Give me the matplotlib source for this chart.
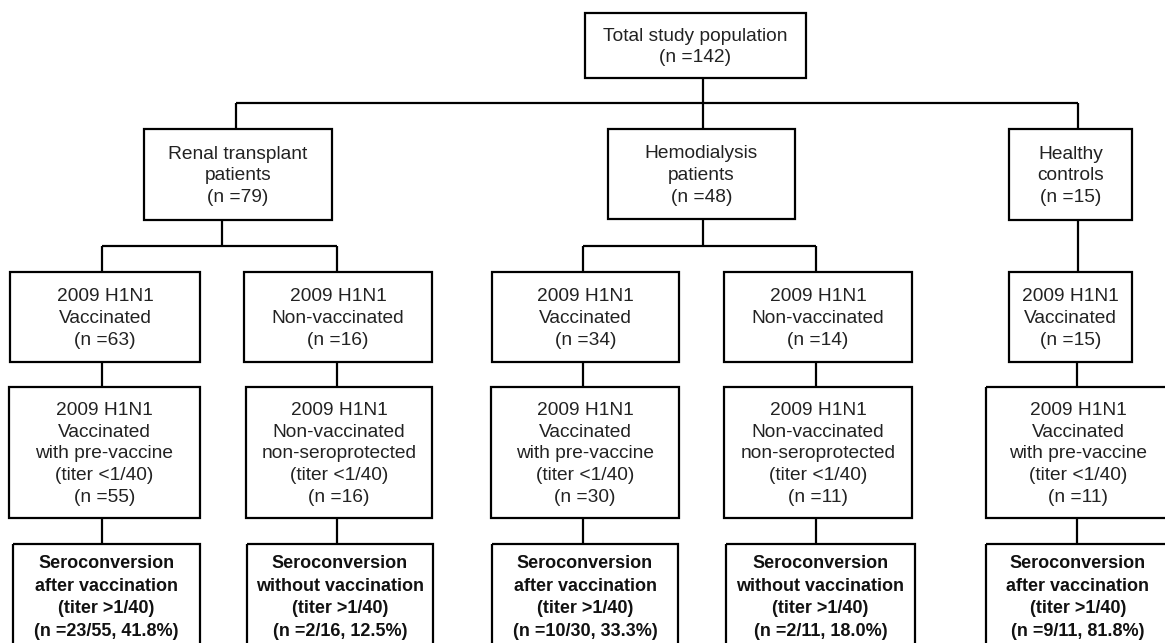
import matplotlib.pyplot as plt
from matplotlib.patches import Rectangle

plt.rcParams['font.family'] = ['Liberation Sans', 'DejaVu Sans']

# box texts, top to bottom
top_label = "Total study population\n(n =142)"
group_labels = ["Renal transplant\npatients\n(n =79)",
                "Hemodialysis\npatients\n(n =48)",
                "Healthy\ncontrols\n(n =15)"]
level3_labels = ["2009 H1N1\nVaccinated\n(n =63)",
                 "2009 H1N1\nNon-vaccinated\n(n =16)",
                 "2009 H1N1\nVaccinated\n(n =34)",
                 "2009 H1N1\nNon-vaccinated\n(n =14)",
                 "2009 H1N1\nVaccinated\n(n =15)"]
level4_labels = ["2009 H1N1\nVaccinated\nwith pre-vaccine\n(titer <1/40)\n(n =55)",
                 "2009 H1N1\nNon-vaccinated\nnon-seroprotected\n(titer <1/40)\n(n =16)",
                 "2009 H1N1\nVaccinated\nwith pre-vaccine\n(titer <1/40)\n(n =30)",
                 "2009 H1N1\nNon-vaccinated\nnon-seroprotected\n(titer <1/40)\n(n =11)",
                 "2009 H1N1\nVaccinated\nwith pre-vaccine\n(titer <1/40)\n(n =11)"]
level5_labels = ["Seroconversion\nafter vaccination\n(titer >1/40)\n(n =23/55, 41.8%)",
                 "Seroconversion\nwithout vaccination\n(titer >1/40)\n(n =2/16, 12.5%)",
                 "Seroconversion\nafter vaccination\n(titer >1/40)\n(n =10/30, 33.3%)",
                 "Seroconversion\nwithout vaccination\n(titer >1/40)\n(n =2/11, 18.0%)",
                 "Seroconversion\nafter vaccination\n(titer >1/40)\n(n =9/11, 81.8%)"]

# layout in pixels (x0, x1, y0, y1)
top_box = (585, 806, 13, 78)
group_boxes = [(144, 332, 129, 220), (608, 795, 129, 219), (1009, 1132, 129, 220)]
l3_boxes = [(10, 200, 272, 362), (244, 432, 272, 362), (492, 679, 272, 362),
            (724, 912, 272, 362), (1009, 1132, 272, 362)]
l4_boxes = [(9, 200, 387, 518), (246, 432, 387, 518), (491, 679, 387, 518),
            (724, 912, 387, 518), (986, 1170, 387, 518)]
l5_boxes = [(13, 200, 544, 652), (247, 433, 544, 652), (492, 678, 544, 652),
            (726, 915, 544, 652), (986, 1170, 544, 652)]
l5_text_y = 597.5

fig = plt.figure(figsize=(11.65, 6.43), dpi=100)
ax = fig.add_axes([0, 0, 1, 1])
ax.set_xlim(0, 1165)
ax.set_ylim(643, 0)
ax.axis('off')

lw = 1.6


def box(b, text, bold=False, ty=None):
    x0, x1, y0, y1 = b
    ax.add_patch(Rectangle((x0, y0), x1 - x0, y1 - y0, fill=False,
                           edgecolor='black', lw=lw))
    if ty is None:
        ty = (y0 + y1) / 2 + 1.5
    if bold:
        ax.text((x0 + x1) / 2, ty, text, ha='center', va='center',
                fontsize=13, linespacing=1.42, color='#111111', fontweight='bold')
    else:
        ax.text((x0 + x1) / 2, ty, text, ha='center', va='center',
                fontsize=13.8, linespacing=1.36, color='#222222')


def line(xs, ys):
    ax.plot(xs, ys, color='black', lw=lw, solid_capstyle='butt')


box(top_box, top_label)
for b, t in zip(group_boxes, group_labels):
    box(b, t)
for b, t in zip(l3_boxes, level3_labels):
    box(b, t)
for b, t in zip(l4_boxes, level4_labels):
    box(b, t)
for b, t in zip(l5_boxes, level5_labels):
    box(b, t, bold=True, ty=l5_text_y)

# connectors
line([703, 703], [78, 129])
line([236, 1078], [103, 103])
line([236, 236], [103, 129])
line([1078, 1078], [103, 129])

line([222, 222], [220, 246])
line([102, 337], [246, 246])
line([102, 102], [246, 272])
line([337, 337], [246, 272])

line([703, 703], [219, 246])
line([583, 816], [246, 246])
line([583, 583], [246, 272])
line([816, 816], [246, 272])

line([1078, 1078], [220, 272])

for x in [102, 337, 583, 816, 1077]:
    line([x, x], [362, 387])
    line([x, x], [518, 544])

fig.savefig('out.png', dpi=100)
